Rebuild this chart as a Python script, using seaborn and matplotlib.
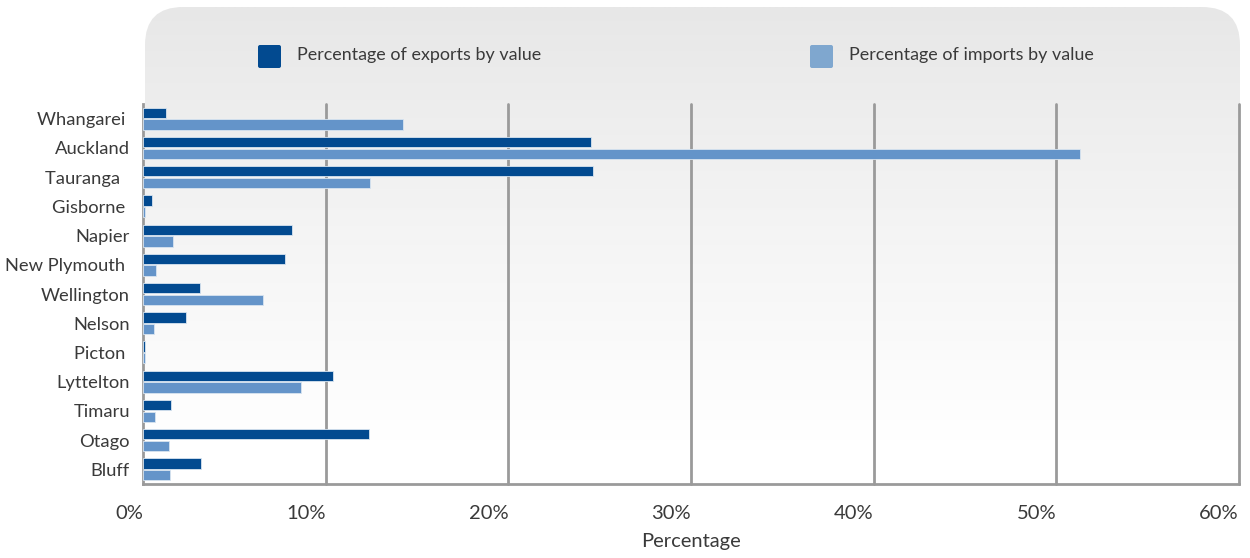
import numpy as np
import pandas as pd
import matplotlib
matplotlib.use("Agg")
import matplotlib.pyplot as plt
from matplotlib.patches import FancyBboxPatch
import seaborn as sns

ports = ["Whangarei ", "Auckland", "Tauranga  ", "Gisborne ", "Napier", "New Plymouth ",
         "Wellington", "Nelson", "Picton ", "Lyttelton", "Timaru", "Otago", "Bluff"]
exports = [1.25, 24.5, 24.65, 0.5, 8.15, 7.8, 3.1, 2.35, 0.12, 10.4, 1.55, 12.35, 3.15]
imports = [14.25, 51.3, 12.45, 0.12, 1.65, 0.72, 6.55, 0.58, 0.12, 8.65, 0.65, 1.45, 1.5]
series_names = ["Percentage of exports by value", "Percentage of imports by value"]
x_ticks = [0, 10, 20, 30, 40, 50, 60]
x_tick_labels = ["0%", "10%", "20%", "30%", "40%", "50%", "60%"]
x_label = "Percentage"

bar_colors = ["#024a90", "#6494c9"]
legend_colors = ["#024a90", "#7fa7cf"]
text_color = "#3a3a3a"
grid_color = "#9a9a9a"

df = pd.DataFrame({
    "port": ports * 2,
    "series": [series_names[0]] * len(ports) + [series_names[1]] * len(ports),
    "value": exports + imports,
})

sns.set_theme(style="white")
plt.rcParams["font.family"] = ["Lato", "DejaVu Sans"]

W, H = 1250, 558
fig = plt.figure(figsize=(W / 100, H / 100), dpi=100)
fig.patch.set_facecolor("white")

# background panel with gradient (pixel coordinates)
ax_bg = fig.add_axes([0, 0, 1, 1], zorder=-1)
ax_bg.set_xlim(0, W)
ax_bg.set_ylim(H, 0)
ax_bg.axis("off")
grad_top, grad_bot = 7, 558
ys = np.linspace(grad_top, grad_bot, 300)
vals = np.clip((ys - grad_top) / (440 - grad_top), 0, 1) ** 0.9
top_c = np.array([0xe7, 0xe7, 0xe7]) / 255
bot_c = np.array([1.0, 1.0, 1.0])
img = top_c[None, :] * (1 - vals[:, None]) + bot_c[None, :] * vals[:, None]
img = np.repeat(img[:, None, :], 2, axis=1)
im = ax_bg.imshow(img, extent=(145, 1240, grad_bot, grad_top), aspect="auto",
                  interpolation="bilinear")
panel = FancyBboxPatch((145, 7), 1095, 700, boxstyle="round,pad=0,rounding_size=38",
                       transform=ax_bg.transData, facecolor="none", edgecolor="none")
ax_bg.add_patch(panel)
im.set_clip_path(panel)

# legend
leg_x = [258, 810]
for lx, name, c in zip(leg_x, series_names, legend_colors):
    sw = FancyBboxPatch((lx, 45), 23, 23, boxstyle="round,pad=0,rounding_size=2",
                        facecolor=c, edgecolor="none", transform=ax_bg.transData)
    ax_bg.add_patch(sw)
    ax_bg.text(lx + 39, 55, name, fontsize=12.9, color=text_color, va="center", ha="left")

# main axes
left, right, top, bottom = 143, 1239, 104, 484
ax = fig.add_axes([left / W, 1 - bottom / H, (right - left) / W, (bottom - top) / H])
ax.set_facecolor("none")

for xv in x_ticks[1:]:
    ax.axvline(xv, color=grid_color, lw=2, zorder=0, clip_on=False)

sns.barplot(data=df, y="port", x="value", hue="series", orient="h",
            palette=bar_colors, dodge=True, width=0.8, gap=0.12, legend=False,
            saturation=1, ax=ax, zorder=3, linewidth=0.6, edgecolor="#d8e4f0")

ax.set_xlim(0, 60)
ax.set_ylim(len(ports) - 0.5, -0.5)
ax.set_xticks(x_ticks)
ax.set_xticklabels(x_tick_labels, ha="right")
ax.set_yticks(range(len(ports)))
ax.set_yticklabels(ports)
ax.set_yticks(np.arange(-0.5, len(ports), 1), minor=True)
ax.tick_params(axis="y", which="major", length=0, pad=9.5, labelsize=13.2, labelcolor=text_color)
ax.tick_params(axis="y", which="minor", length=6, width=2, color=grid_color, direction="out")
ax.tick_params(axis="x", which="major", length=8, width=2, color=grid_color, direction="out",
               pad=7, labelsize=14.5, labelcolor=text_color)
ax.set_xlabel(x_label, fontsize=14.5, color=text_color, labelpad=8)
ax.set_ylabel("")

for s in ["top", "right"]:
    ax.spines[s].set_visible(False)
for s in ["left", "bottom"]:
    ax.spines[s].set_color(grid_color)
    ax.spines[s].set_linewidth(2)

fig.savefig("out.png", dpi=100)
